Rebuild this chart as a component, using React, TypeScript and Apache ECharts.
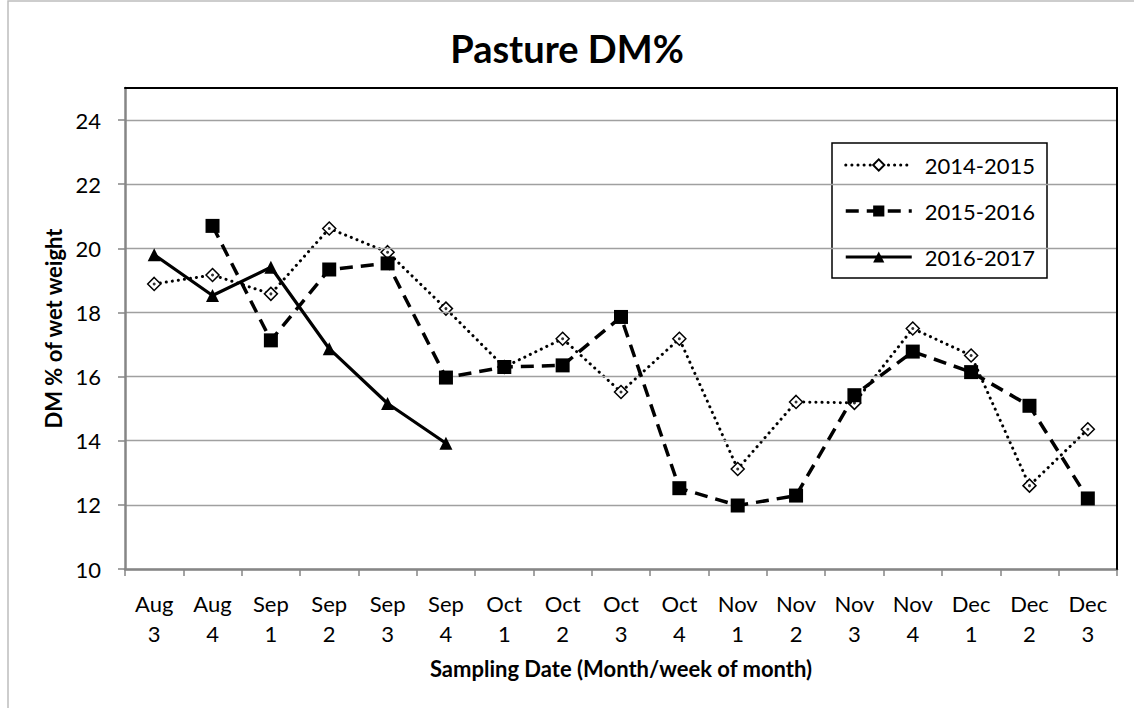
import React, { useEffect, useRef } from "react";
import * as echarts from "echarts";

const categories = [
  "Aug\n3", "Aug\n4", "Sep\n1", "Sep\n2", "Sep\n3", "Sep\n4",
  "Oct\n1", "Oct\n2", "Oct\n3", "Oct\n4",
  "Nov\n1", "Nov\n2", "Nov\n3", "Nov\n4",
  "Dec\n1", "Dec\n2", "Dec\n3",
];
const season1415 = [18.89, 19.17, 18.58, 20.62, 19.88, 18.12, 16.3, 17.18, 15.52, 17.18, 13.12, 15.21, 15.18, 17.5, 16.66, 12.6, 14.36];
const season1516 = [null, 20.7, 17.13, 19.34, 19.53, 15.97, 16.3, 16.35, 17.86, 12.52, 11.98, 12.29, 15.42, 16.78, 16.14, 15.09, 12.2];
const season1617 = [19.8, 18.53, 19.41, 16.87, 15.16, 13.92, null, null, null, null, null, null, null, null, null, null, null];
const seriesNames = ["2014-2015", "2015-2016", "2016-2017"];
const yTicks = [10, 12, 14, 16, 18, 20, 22, 24];
const yMin = 10;
const yMax = 25;
const yStep = 2;

const FONT = "Lato";

const style1415 = { color: "#000", width: 3, type: [0.1, 6] as any, cap: "round" };
const style1516 = { color: "#000", width: 3.5, type: [13, 8] as any };
const style1617 = { color: "#000", width: 3.2 };

export default function App() {
  const ref = useRef<HTMLDivElement>(null);
  useEffect(() => {
    if (!ref.current) return;
    const chart = echarts.init(ref.current, null, { renderer: "svg" });
    chart.setOption({
      animation: false,
      backgroundColor: "#fff",
      textStyle: { fontFamily: FONT },
      title: {
        text: "Pasture DM%",
        left: "center",
        top: 20,
        textStyle: { fontFamily: FONT, fontWeight: "bold", fontSize: 38, lineHeight: 46, color: "#000" },
      },
      graphic: [
        {
          type: "polyline",
          shape: { points: [[8, 708], [8, 1], [1134, 1]] },
          style: { stroke: "#bdbdbd", lineWidth: 1.5, fill: "none" },
        },
      ],
      legend: {
        orient: "vertical",
        left: 832,
        top: 143,
        padding: [10, 12, 9, 12],
        itemWidth: 66,
        itemHeight: 14,
        itemGap: 22,
        borderColor: "#000",
        borderWidth: 1.5,
        backgroundColor: "#fff",
        textStyle: { fontFamily: FONT, fontSize: 22, color: "#000", lineHeight: 24, padding: [0, 0, 0, 8] },
        data: [
          { name: seriesNames[0], lineStyle: style1415 },
          { name: seriesNames[1], lineStyle: style1516 },
          { name: seriesNames[2], lineStyle: style1617 },
        ],
      },
      grid: { left: 125, top: 88, right: 17, bottom: 140, containLabel: false },
      xAxis: [
        {
          type: "category",
          data: categories,
          boundaryGap: true,
          axisLine: { lineStyle: { color: "#868686", width: 2.5 } },
          axisTick: { show: true, length: 7, lineStyle: { color: "#868686", width: 1.5 } },
          axisLabel: { fontFamily: FONT, fontSize: 22, color: "#000", lineHeight: 30, margin: 19, interval: 0 },
          name: "Sampling Date (Month/week of month)",
          nameLocation: "middle",
          nameGap: 88,
          nameTextStyle: { fontFamily: FONT, fontSize: 22, fontWeight: "bold", color: "#000" },
          z: 4,
        },
        {
          type: "category",
          data: categories,
          position: "top",
          axisLine: { lineStyle: { color: "#000", width: 2 } },
          axisTick: { show: false },
          axisLabel: { show: false },
          z: 5,
        },
      ],
      yAxis: [
        {
          type: "value",
          min: yMin,
          max: yMax,
          interval: yStep,
          axisLine: { show: true, lineStyle: { color: "#868686", width: 2.5 } },
          axisTick: { show: true, length: 7, lineStyle: { color: "#868686", width: 1.5 }, customValues: yTicks },
          axisLabel: { fontFamily: FONT, fontSize: 22, color: "#000", margin: 24, customValues: yTicks },
          splitLine: { show: true, lineStyle: { color: "#a0a0a0", width: 1.3 } },
          name: "DM % of wet weight",
          nameLocation: "middle",
          nameGap: 56,
          nameTextStyle: { fontFamily: FONT, fontSize: 22, fontWeight: "bold", color: "#000" },
          z: 4,
        },
        {
          type: "value",
          min: yMin,
          max: yMax,
          position: "right",
          axisLine: { show: true, lineStyle: { color: "#000", width: 2 } },
          axisTick: { show: false },
          axisLabel: { show: false },
          splitLine: { show: false },
          z: 5,
        },
      ],
      series: [
        {
          name: seriesNames[0],
          type: "line",
          data: season1415,
          xAxisIndex: 0,
          yAxisIndex: 0,
          symbol: "diamond",
          symbolSize: 13,
          itemStyle: { color: "#fff", borderColor: "#000", borderWidth: 1.5 },
          lineStyle: style1415,
          z: 3,
        },
        {
          name: "dots1415",
          type: "scatter",
          data: season1415,
          xAxisIndex: 0,
          yAxisIndex: 0,
          symbol: "circle",
          symbolSize: 3,
          itemStyle: { color: "#000" },
          silent: true,
          z: 3,
        },
        {
          name: seriesNames[1],
          type: "line",
          data: season1516,
          xAxisIndex: 0,
          yAxisIndex: 0,
          symbol: "rect",
          symbolSize: 14,
          itemStyle: { color: "#000" },
          lineStyle: style1516,
          z: 4,
        },
        {
          name: seriesNames[2],
          type: "line",
          data: season1617,
          xAxisIndex: 0,
          yAxisIndex: 0,
          symbol: "triangle",
          symbolSize: 13,
          itemStyle: { color: "#000" },
          lineStyle: style1617,
          z: 4,
        },
      ],
    });
    return () => chart.dispose();
  }, []);
  return <div ref={ref} style={{ position: "fixed", left: 0, top: 0, width: 1134, height: 709 }} />;
}
